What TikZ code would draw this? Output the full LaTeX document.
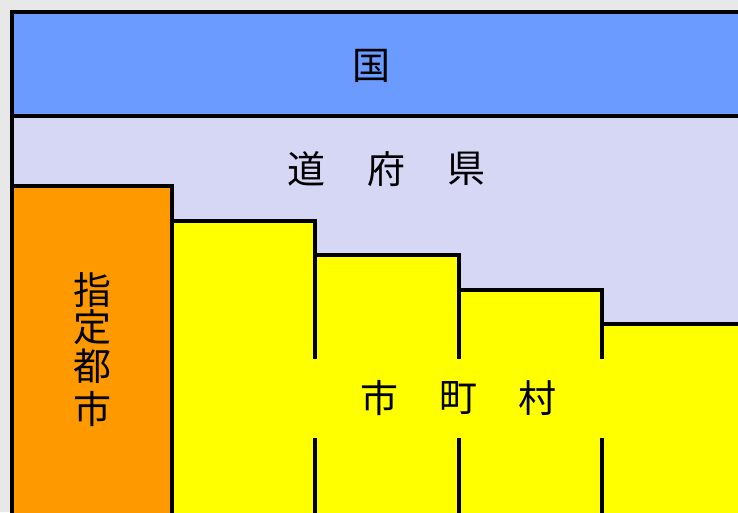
\documentclass[tikz,border=0pt]{standalone}
\usepackage{fontspec}
\newfontfamily\jpfont{Noto Sans CJK JP}
\definecolor{bggray}{HTML}{E8E8E8}
\definecolor{kuni}{HTML}{6B9BFF}
\definecolor{ken}{HTML}{D6D6F5}
\definecolor{shitei}{HTML}{FF9900}
\definecolor{shi}{HTML}{FFFF00}
\begin{document}
\begin{tikzpicture}[x=1pt,y=-1pt,
  region/.style={draw=black,line width=3.5pt,line join=miter},
  lbl/.style={font=\jpfont\fontsize{38}{40}\selectfont,inner sep=0pt,anchor=center},
  sep/.style={draw=black,line width=3.5pt}]
\useasboundingbox (0,0) rectangle (738,512);
\fill[bggray] (0,0) rectangle (738,512);
\path[region,fill=ken] (12,116) rectangle (760,530);
\path[region,fill=kuni] (12,12) rectangle (760,116);
\path[region,fill=shitei] (12,186) rectangle (172,530);
\path[region,fill=shi] (172,530) -- (172,221) -- (315,221) -- (315,255) -- (459,255) -- (459,290) -- (602,290) -- (602,324) -- (760,324) -- (760,530) -- cycle;
\coordinate (a0) at (315,255); \coordinate (a1) at (315,359);
\coordinate (a2) at (315,438); \coordinate (a3) at (315,530);
\coordinate (b0) at (459,290); \coordinate (b1) at (459,359);
\coordinate (b2) at (459,438); \coordinate (b3) at (459,530);
\coordinate (c0) at (602,324); \coordinate (c1) at (602,359);
\coordinate (c2) at (602,438); \coordinate (c3) at (602,530);
\draw[sep] (a0) -- (a1) (a2) -- (a3);
\draw[sep] (b0) -- (b1) (b2) -- (b3);
\draw[sep] (c0) -- (c1) (c2) -- (c3);
\node[lbl] (kuni) at (371.5,66) {国};
\node[lbl] (d) at (306,169) {道};
\node[lbl] (f) at (386,169) {府};
\node[lbl] (k) at (466,169) {県};
\node[lbl] (s1) at (379,398) {市};
\node[lbl] (m) at (458,398) {町};
\node[lbl] (v) at (537,398) {村};
\node[lbl] (t1) at (92,290) {指};
\node[lbl] (t2) at (92,327) {定};
\node[lbl] (t3) at (92,366) {都};
\node[lbl] (t4) at (92,409) {市};
\end{tikzpicture}
\end{document}
